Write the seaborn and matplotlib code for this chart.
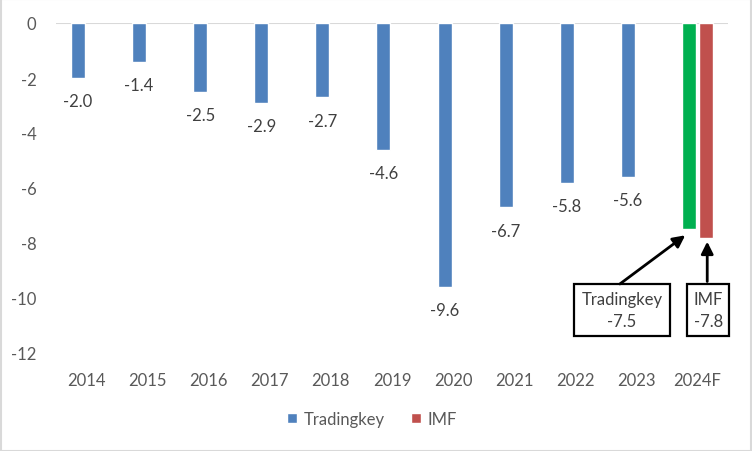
import matplotlib
matplotlib.use("Agg")
import matplotlib.pyplot as plt
from matplotlib.patches import Patch, Rectangle
import seaborn as sns
import pandas as pd

years = ['2014', '2015', '2016', '2017', '2018', '2019', '2020', '2021', '2022', '2023', '2024F']
tradingkey = [-2.0, -1.4, -2.5, -2.9, -2.7, -4.6, -9.6, -6.7, -5.8, -5.6, -7.5]
imf_years = ['2024F']
imf = [-7.8]
yticks = [0, -2, -4, -6, -8, -10, -12]

BLUE = '#4F81BD'
RED = '#C0504D'
GREEN = '#00B050'
TXT = '#595959'
LBL = '#404040'
FS = 12

df = pd.concat([
    pd.DataFrame({'year': years, 'value': tradingkey, 'series': 'Tradingkey'}),
    pd.DataFrame({'year': imf_years, 'value': imf, 'series': 'IMF'}),
], ignore_index=True)

sns.set_style('white')
plt.rcParams['font.family'] = ['Lato', 'DejaVu Sans']

fig = plt.figure(figsize=(7.52, 4.52), dpi=100)
ax = fig.add_axes([56 / 752, 1 - 354 / 452, (728 - 56) / 752, (354 - 24) / 452])

sns.barplot(data=df, x='year', y='value', hue='series', order=years,
            hue_order=['Tradingkey', 'IMF'], palette=[BLUE, RED],
            width=0.56, gap=0.18, saturation=1, legend=False, ax=ax)

# 2024F Tradingkey forecast in green
ax.containers[0][len(years) - 1].set_facecolor(GREEN)

labels = [f'{v:.1f}' for v in tradingkey[:-1]] + ['']
ax.bar_label(ax.containers[0], labels=labels, padding=11, fontsize=FS, color=LBL)

ax.set_ylim(-12, 0)
ax.set_xlim(-0.5, 10.5)
ax.set_yticks(yticks)
ax.set_yticklabels([str(t) for t in yticks])
ax.set_xlabel('')
ax.set_ylabel('')
for s in ['left', 'right', 'bottom', 'top']:
    ax.spines[s].set_visible(False)
ax.axhline(0, color='#D9D9D9', lw=1.5, zorder=0)
ax.tick_params(axis='both', length=0, labelsize=FS, labelcolor=TXT)
ax.tick_params(axis='y', pad=14)
ax.tick_params(axis='x', pad=14)

# annotation boxes
for (x0, x1), txt in [((7.98, 9.55), 'Tradingkey\n-7.5'), ((9.83, 10.52), 'IMF\n-7.8')]:
    ax.add_patch(Rectangle((x0, -11.38), x1 - x0, 11.38 - 9.49, fill=False,
                           edgecolor='black', lw=1.6, clip_on=False, zorder=5))
    ax.text((x0 + x1) / 2, -10.44, txt, ha='center', va='center', fontsize=FS,
            color=LBL, linespacing=1.4, clip_on=False, zorder=6)

ax.annotate('', xy=(9.80, -7.72), xytext=(8.73, -9.49),
            arrowprops=dict(arrowstyle='-|>', color='black', lw=2, mutation_scale=18,
                            shrinkA=0, shrinkB=0), annotation_clip=False)
ax.annotate('', xy=(10.16, -7.95), xytext=(10.16, -9.40),
            arrowprops=dict(arrowstyle='-|>', color='black', lw=2, mutation_scale=18,
                            shrinkA=0, shrinkB=0), annotation_clip=False)

handles = [Patch(facecolor=BLUE, label='Tradingkey'), Patch(facecolor=RED, label='IMF')]
fig.legend(handles=handles, loc='center', bbox_to_anchor=(372 / 752, 1 - 420 / 452),
           ncol=2, frameon=False, handlelength=0.6, handleheight=0.6,
           columnspacing=1.6, handletextpad=0.4, fontsize=FS, labelcolor=TXT)

fig.patches.append(Rectangle((0.001, 0.001), 0.998, 0.998, transform=fig.transFigure,
                             fill=False, edgecolor='#D9D9D9', lw=1.5))

fig.savefig('out.png', dpi=100)
